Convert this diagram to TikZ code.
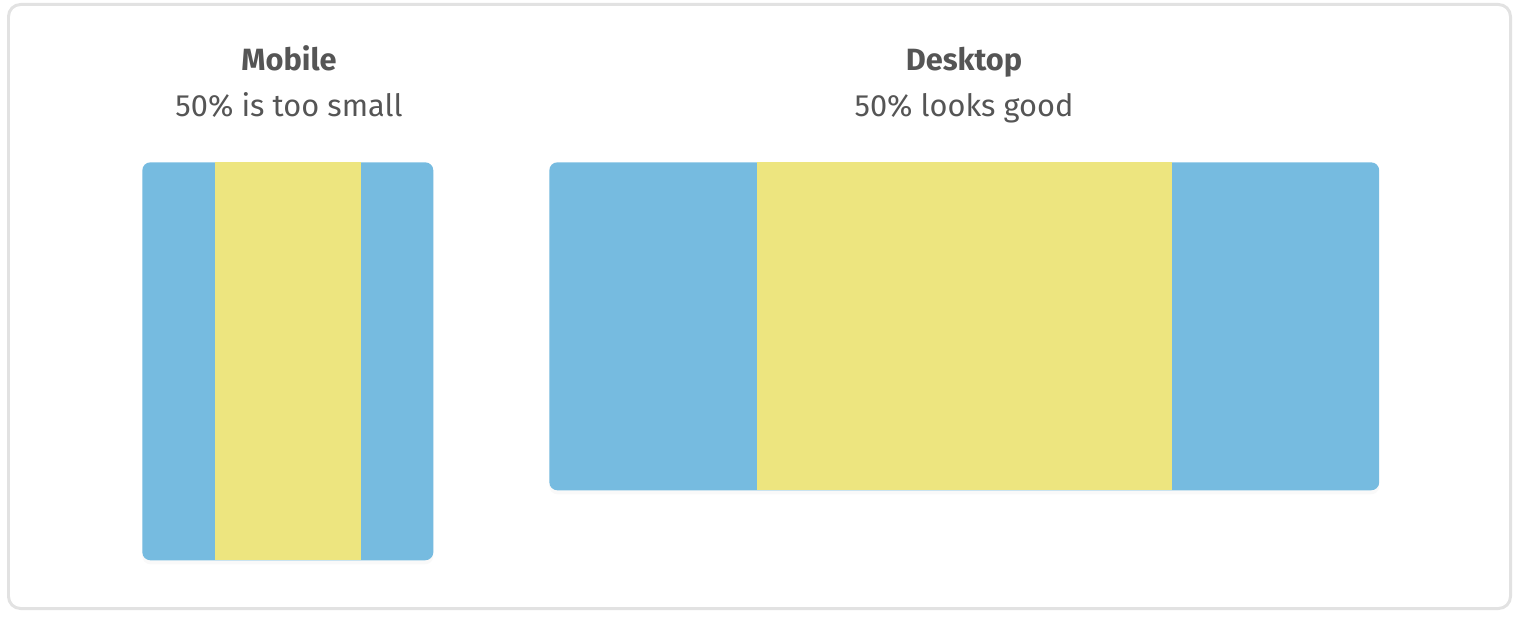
\documentclass[tikz,border=0pt]{standalone}
\usepackage{fontspec}
\setmainfont{Fira Sans}
\usetikzlibrary{positioning,shadows}
\definecolor{barblue}{HTML}{76BBE0}
\definecolor{baryellow}{HTML}{EDE57F}
\definecolor{txtgray}{HTML}{555555}
\definecolor{framegray}{HTML}{E2E2E2}

\begin{document}
\begin{tikzpicture}[x=0.02cm,y=-0.02cm,
title/.style={text=txtgray,anchor=base,font=\fontsize{17.5}{20}\selectfont\bfseries},
sub/.style={text=txtgray,anchor=base,font=\fontsize{17.5}{20}\selectfont},
panel/.style={fill=barblue,rounded corners=0.16cm,inner sep=0pt,anchor=north west,
    drop shadow={opacity=0.05,shadow xshift=0pt,shadow yshift=-0.08cm}},
strip/.style={fill=baryellow,inner sep=0pt,minimum height=#1},
strip/.default=7.96cm]
\useasboundingbox (0,0) rectangle (1522,618);
\draw[framegray,line width=0.06cm,rounded corners=0.24cm] (8.5,4.5) rectangle (1510.5,608.5);

% mobile
\node (mobtitle) [title] at (289,71) {Mobile};
\node (mobsub) [sub] at (289,117) {50\% is too small};
\node (mob) [panel,minimum width=5.82cm,minimum height=7.96cm] at (142,162) {};
\node (mobmid) [strip=7.96cm,minimum width=2.92cm] at (mob.center) {};

% desktop
\node (desktitle) [title] at (964,71) {Desktop};
\node (desksub) [sub] at (964,117) {50\% looks good};
\node (desk) [panel,minimum width=16.6cm,minimum height=6.56cm] at (549,162) {};
\node (deskmid) [strip=6.56cm,minimum width=8.3cm] at (desk.center) {};
\end{tikzpicture}
\end{document}
